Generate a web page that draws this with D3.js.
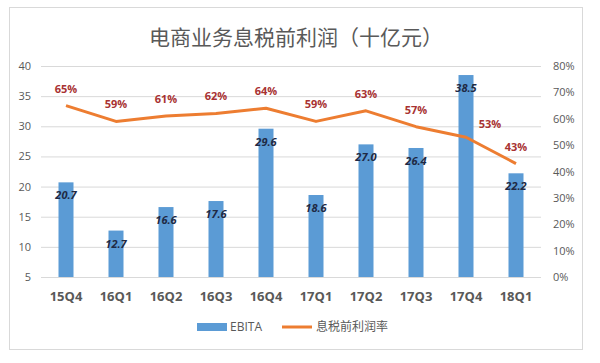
<!DOCTYPE html>
<html><head><meta charset="utf-8">
<script src="https://cdn.jsdelivr.net/npm/d3@7"></script>
<style>body{margin:0;background:#fff}svg{display:block;font-family:"Open Sans","Noto Sans CJK SC",sans-serif}</style>
</head><body><svg id="c" width="600" height="363"></svg>
<script>
const categories = ["15Q4","16Q1","16Q2","16Q3","16Q4","17Q1","17Q2","17Q3","17Q4","18Q1"];
const ebita = [20.7,12.7,16.6,17.6,29.6,18.6,27.0,26.4,38.5,22.2];
const margin = [65,59,61,62,64,59,63,57,53,43];
const leftTicks = [5,10,15,20,25,30,35,40];
const rightTicks = [0,10,20,30,40,50,60,70,80];

const svg = d3.select("#c");
svg.append("rect").attr("x",9.5).attr("y",7.5).attr("width",573).attr("height",342)
  .attr("fill","#fff").attr("stroke","#D9D9D9");

svg.append("text").attr("x",296).attr("y",45).attr("text-anchor","middle")
  .attr("font-size",21).attr("fill","#595959").attr("font-family","Noto Sans CJK SC")
  .text("电商业务息税前利润（十亿元）");

const x = d3.scaleBand().domain(categories).range([41,541]).paddingInner(0.7).paddingOuter(0.35);
const yL = d3.scaleLinear().domain([5,40]).range([277,66]);
const yR = d3.scaleLinear().domain([0,80]).range([277,66]);

svg.append("g").selectAll("line").data(leftTicks).join("line")
  .attr("x1",41).attr("x2",541).attr("y1",d=>yL(d)+0.5).attr("y2",d=>yL(d)+0.5)
  .attr("stroke","#D9D9D9");

const axL = svg.append("g").attr("transform","translate(41,0)")
  .call(d3.axisLeft(yL).tickValues(leftTicks).tickSize(0).tickPadding(10));
axL.select(".domain").remove();
axL.selectAll("text").attr("font-size",11).attr("fill","#595959").attr("font-family","Open Sans");

const axR = svg.append("g").attr("transform","translate(541,0)")
  .call(d3.axisRight(yR).tickValues(rightTicks).tickSize(0).tickPadding(12).tickFormat(d=>d+"%"));
axR.select(".domain").remove();
axR.selectAll("text").attr("font-size",11).attr("fill","#595959").attr("font-family","Open Sans");

svg.append("g").selectAll("rect").data(categories).join("rect")
  .attr("x",d=>x(d)).attr("width",x.bandwidth())
  .attr("y",(d,i)=>yL(ebita[i])).attr("height",(d,i)=>yL(5)-yL(ebita[i]))
  .attr("fill","#5B9BD5");

svg.append("g").selectAll("text").data(categories).join("text")
  .attr("x",d=>x(d)+x.bandwidth()/2).attr("y",(d,i)=>yL(ebita[i])+17)
  .attr("text-anchor","middle").attr("font-size",11).attr("font-weight","bold").attr("font-style","italic")
  .attr("fill","#1F2A44").text((d,i)=>ebita[i].toFixed(1));

const cx = d=>x(d)+x.bandwidth()/2;
svg.append("path").datum(categories)
  .attr("d",d3.line().x(cx).y((d,i)=>yR(margin[i])))
  .attr("fill","none").attr("stroke","#ED7D31").attr("stroke-width",3).attr("stroke-linejoin","round");

svg.append("g").selectAll("text").data(categories).join("text")
  .attr("x",(d,i)=>cx(d)+(i===8?24:0)).attr("y",(d,i)=>yR(margin[i])-(i===8?9:13))
  .attr("text-anchor","middle").attr("font-size",11).attr("font-weight","bold")
  .attr("fill","#A83232").text((d,i)=>margin[i]+"%");

svg.append("g").selectAll("text").data(categories).join("text")
  .attr("x",d=>cx(d)).attr("y",301).attr("text-anchor","middle")
  .attr("font-size",13).attr("font-weight","bold").attr("fill","#595959").text(d=>d);

const lg = svg.append("g");
lg.append("rect").attr("x",197).attr("y",323).attr("width",30).attr("height",8).attr("fill","#5B9BD5");
lg.append("text").attr("x",230).attr("y",331).attr("font-size",12).attr("fill","#595959").text("EBITA");
lg.append("line").attr("x1",282).attr("x2",312).attr("y1",327).attr("y2",327).attr("stroke","#ED7D31").attr("stroke-width",3);
lg.append("text").attr("x",316).attr("y",331).attr("font-size",12).attr("fill","#595959")
  .attr("font-family","Noto Sans CJK SC").text("息税前利润率");
</script></body></html>
